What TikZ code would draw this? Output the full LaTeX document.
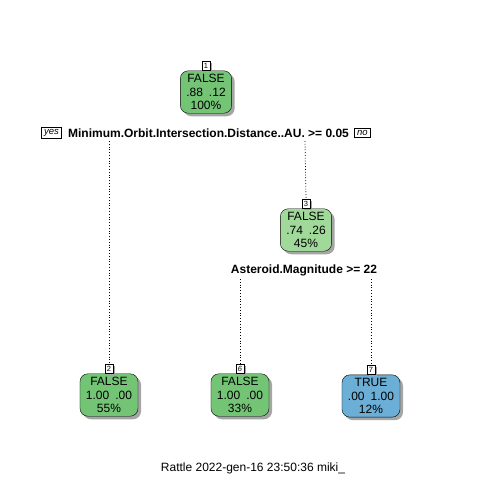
\documentclass[tikz,border=0pt]{standalone}
\usepackage{fontspec}
\setmainfont{Liberation Sans}
\usetikzlibrary{positioning,shadows}

\begin{document}
\begin{tikzpicture}[x=1pt, y=-1pt]
		\definecolor{tgreen}{RGB}{116,196,118}
		\definecolor{tlgreen}{RGB}{161,217,155}
		\definecolor{tblue}{RGB}{107,174,214}
		\definecolor{tshadow}{RGB}{165,165,165}
		\tikzset{
			leaf/.style={draw, rounded corners=8pt, align=center,
				inner xsep=6pt, inner ysep=3.5pt,
				font=\fontsize{12}{13.5}\selectfont,
				drop shadow={shadow xshift=3pt, shadow yshift=-3pt, fill=tshadow, opacity=1}},
			numbox/.style={draw, fill=white, inner sep=1pt, minimum width=8pt,
				minimum height=9pt, font=\fontsize{7.5}{7.5}\selectfont,
				drop shadow={shadow xshift=1.5pt, shadow yshift=-1.5pt, fill=tshadow, opacity=1}},
			yesno/.style={draw, inner xsep=2.5pt, inner ysep=2pt,
				font=\fontsize{9.5}{9.5}\selectfont\itshape},
			split/.style={font=\fontsize{12}{12}\selectfont\bfseries},
			branch/.style={dotted, line width=0.8pt}
		}
		\useasboundingbox (0,0) rectangle (480,480);

		% Root
		\node[leaf, fill=tgreen] (n1) at (206,92) {FALSE\\.88\enspace.12\\100\%};
		\node[numbox, above=0pt of n1] (k1) {1};
		\node[split] (s1) at (208.5,133) {Minimum.Orbit.Intersection.Distance..AU. >= 0.05};
		\node[yesno, left=3pt of s1] (yes) {yes};
		\node[yesno, right=2pt of s1] (no) {no};

		% Inner node
		\node[leaf, fill=tlgreen] (n3) at (306,230) {FALSE\\.74\enspace.26\\45\%};
		\node[numbox, above=0pt of n3] (k3) {3};
		\node[split] (s3) at (304,270) {Asteroid.Magnitude >= 22};

		% Leaves
		\node[leaf, fill=tgreen] (n2) at (109,395) {FALSE\\1.00\enspace.00\\55\%};
		\node[numbox, above=0pt of n2] (k2) {2};
		\node[leaf, fill=tgreen] (n6) at (240,395) {FALSE\\1.00\enspace.00\\33\%};
		\node[numbox, above=0pt of n6] (k6) {\textit{6}};
		\node[leaf, fill=tblue] (n7) at (371,396) {TRUE\\.00\enspace1.00\\12\%};
		\node[numbox, above=0pt of n7] (k7) {7};

		% Edges
		\coordinate (s1-l) at (109,141);
		\coordinate (s1-r) at (305,141);
		\coordinate (s3-l) at (240,279);
		\coordinate (s3-r) at (371,279);
		\draw[branch] (s1-l) -- (k2.north);
		\draw[branch] (s1-r) -- (k3.north);
		\draw[branch] (s3-l) -- (k6.north);
		\draw[branch] (s3-r) -- (k7.north);

		% Footer
		\node[font=\fontsize{12}{12}\selectfont] (foot) at (253,468) {Rattle 2022-gen-16 23:50:36 miki\_};
\end{tikzpicture}
\end{document}
